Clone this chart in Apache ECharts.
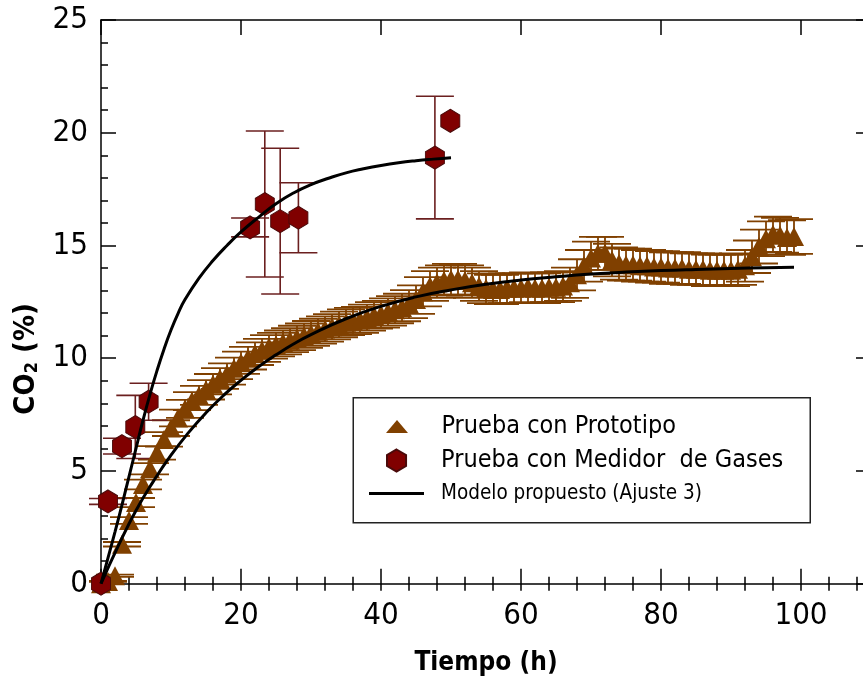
<!DOCTYPE html>
<html>
<head>
<meta charset="utf-8">
<script src="https://cdn.jsdelivr.net/npm/echarts@6/dist/echarts.min.js"></script>
<style>
html, body { margin: 0; padding: 0; background: #fff; }
#main { width: 863px; height: 677px; }
</style>
</head>
<body>
<div id="main"></div>
<script>
// Prueba con Prototipo: tiempo (h), CO2 (%), error
var tiempoProto = [0, 1, 2, 3, 4, 5, 6, 7, 8, 9, 10, 11, 12, 13, 14, 15, 16, 17, 18, 19,
  20, 21, 22, 23, 24, 25, 26, 27, 28, 29, 30, 31, 32, 33, 34, 35, 36, 37, 38, 39,
  40, 41, 42, 43, 44, 45, 46, 47, 48, 49, 50, 51, 52, 53, 54, 55, 56, 57, 58, 59,
  60, 61, 62, 63, 64, 65, 66, 67, 68, 69, 70, 71, 72, 73, 74, 75, 76, 77, 78, 79,
  80, 81, 82, 83, 84, 85, 86, 87, 88, 89, 90, 91, 92, 93, 94, 95, 96, 97, 98, 99];
var co2Proto = [0, 0.1, 0.35, 1.75, 2.8, 3.6, 4.4, 5.1, 5.8, 6.4, 6.9, 7.35, 7.75, 8.1, 8.35, 8.6, 8.85, 9.1, 9.3, 9.55,
  9.8, 10.0, 10.2, 10.35, 10.5, 10.6, 10.7, 10.8, 10.9, 11.0, 11.1, 11.2, 11.3, 11.4, 11.5, 11.6, 11.65, 11.7, 11.8, 11.9,
  11.95, 12.05, 12.15, 12.25, 12.4, 12.6, 12.95, 13.2, 13.35, 13.45, 13.5, 13.5, 13.45, 13.35, 13.2, 13.1, 13.05, 13.05, 13.1, 13.1,
  13.1, 13.15, 13.1, 13.1, 13.15, 13.15, 13.2, 13.35, 13.7, 14.1, 14.45, 14.65, 14.65, 14.35, 14.2, 14.15, 14.15, 14.1, 14.1, 14.05,
  14.05, 14.0, 14.0, 14.0, 13.95, 13.95, 13.95, 13.9, 13.9, 13.9, 13.9, 13.95, 14.1, 14.5, 14.95, 15.3, 15.5, 15.45, 15.35, 15.4];
var errProto = [0, 0.02, 0.05, 0.1, 0.15, 0.2, 0.22, 0.25, 0.3, 0.32, 0.35, 0.37, 0.4, 0.4, 0.42, 0.43, 0.45, 0.46, 0.47, 0.48,
  0.49, 0.5, 0.5, 0.51, 0.52, 0.52, 0.53, 0.53, 0.54, 0.54, 0.55, 0.55, 0.56, 0.56, 0.57, 0.57, 0.58, 0.58, 0.58, 0.59,
  0.59, 0.6, 0.6, 0.61, 0.62, 0.63, 0.65, 0.66, 0.67, 0.67, 0.68, 0.68, 0.67, 0.67, 0.66, 0.66, 0.65, 0.65, 0.66, 0.66,
  0.66, 0.66, 0.66, 0.66, 0.66, 0.66, 0.66, 0.67, 0.69, 0.7, 0.72, 0.73, 0.73, 0.72, 0.71, 0.71, 0.71, 0.7, 0.7, 0.7,
  0.7, 0.7, 0.7, 0.7, 0.7, 0.7, 0.7, 0.7, 0.7, 0.7, 0.7, 0.7, 0.7, 0.72, 0.75, 0.77, 0.78, 0.77, 0.77, 0.77];

// Prueba con Medidor de Gases
var tiempoGas = [0, 1, 3, 4.9, 6.8, 21.3, 23.4, 25.6, 28.2, 47.7, 49.9];
var co2Gas = [0, 3.65, 6.1, 6.95, 8.07, 15.8, 16.84, 16.08, 16.23, 18.9, 20.53];
var errGas = [0, 0.13, 0.35, 1.4, 0.82, 0.42, 3.24, 3.23, 1.55, 2.72, 0];

// Modelo propuesto (Ajuste 3)
var tiempoModGas = [0, 1, 2, 3, 4, 5, 6, 7, 8, 9, 10, 11, 12, 14, 16, 18, 20, 22.5, 25, 27.5, 30, 32.5, 35, 37.5, 40, 42.5, 45, 47.5, 50];
var co2ModGas = [0, 1.15, 2.3, 3.5, 4.75, 6.0, 7.25, 8.4, 9.45, 10.4, 11.25, 11.98, 12.6, 13.55, 14.33, 15.0, 15.6, 16.25, 16.85, 17.33, 17.7, 17.98, 18.22, 18.4, 18.55, 18.67, 18.76, 18.83, 18.89];
var tiempoModProto = [0, 2.5, 5, 7.5, 10, 12.5, 15, 17.5, 20, 22.5, 25, 27.5, 30, 35, 40, 45, 50, 55, 60, 65, 70, 75, 80, 85, 90, 95, 99];
var co2ModProto = [0, 1.7, 3.25, 4.55, 5.7, 6.7, 7.58, 8.35, 9.02, 9.62, 10.15, 10.63, 11.05, 11.75, 12.3, 12.72, 13.03, 13.28, 13.47, 13.61, 13.73, 13.82, 13.89, 13.94, 13.98, 14.01, 14.03];

var fuente = "'Liberation Sans Narrow', 'Arial Narrow', 'DejaVu Sans Condensed', 'Liberation Sans', Arial, sans-serif";
var colProto = '#804000';
var colGas = '#800000';
var colGasErr = '#6b1f1f';
var hexPath = 'path://M0,-1L0.866,-0.5L0.866,0.5L0,1L-0.866,0.5L-0.866,-0.5Z';
var triPath = 'path://M11,0L22,13L0,13Z';
var linePath = 'path://M0,0L55,0L55,3L0,3Z';

function zip3(a, b, c) {
  var out = [];
  for (var i = 0; i < a.length; i++) out.push([a[i], b[i], c[i]]);
  return out;
}
function zip2(a, b) {
  var out = [];
  for (var i = 0; i < a.length; i++) out.push([a[i], b[i]]);
  return out;
}

// barras de error verticales con tapas anchas
function barrasError(color, ancho) {
  return function (params, api) {
    var x = api.value(0), y = api.value(1), e = api.value(2);
    if (!e) return null;
    var arriba = api.coord([x, y + e]);
    var abajo = api.coord([x, y - e]);
    var w = 19;
    var st = { stroke: color, lineWidth: ancho };
    return {
      type: 'group',
      children: [
        { type: 'line', shape: { x1: arriba[0], y1: arriba[1], x2: abajo[0], y2: abajo[1] }, style: st },
        { type: 'line', shape: { x1: arriba[0] - w, y1: arriba[1], x2: arriba[0] + w, y2: arriba[1] }, style: st },
        { type: 'line', shape: { x1: abajo[0] - w, y1: abajo[1], x2: abajo[0] + w, y2: abajo[1] }, style: st }
      ]
    };
  };
}

var ejeLinea = { show: true, onZero: false, lineStyle: { color: '#000', width: 1.5 } };

function ejeX(pos, intervalo, largo, conLinea, conEtiquetas) {
  return {
    type: 'value', position: pos, min: 0, max: 110, interval: intervalo,
    axisLine: conLinea ? ejeLinea : { show: false },
    axisTick: { show: true, inside: true, length: largo, lineStyle: { color: '#000', width: 1.5 } },
    axisLabel: conEtiquetas ? { show: true, showMaxLabel: false, margin: 17, color: '#000', fontSize: 31, fontFamily: fuente } : { show: false },
    splitLine: { show: false }
  };
}
function ejeY(pos, conEtiquetas) {
  return {
    type: 'value', position: pos, min: 0, max: 25, interval: 5,
    axisLine: ejeLinea,
    axisTick: { show: true, inside: true, length: 15, lineStyle: { color: '#000', width: 1.5 } },
    minorTick: { show: true, splitNumber: 5, length: 7, lineStyle: { color: '#000', width: 1.5 } },
    axisLabel: conEtiquetas ? { show: true, margin: 13, color: '#000', fontSize: 31, fontFamily: fuente } : { show: false },
    splitLine: { show: false }
  };
}

var xEjes = [ejeX('bottom', 20, 15, true, true), ejeX('bottom', 4, 7, false, false),
             ejeX('top', 20, 15, true, false), ejeX('top', 4, 7, false, false)];
xEjes[0].name = 'Tiempo (h)';
xEjes[0].nameLocation = 'middle';
xEjes[0].nameGap = 67;
xEjes[0].nameTextStyle = { color: '#000', fontSize: 26, fontWeight: 'bold', fontFamily: fuente };

var yEjes = [ejeY('left', true), ejeY('right', false)];
yEjes[0].name = 'CO{sub|2} (%)';
yEjes[0].nameLocation = 'middle';
yEjes[0].nameRotate = 90;
yEjes[0].nameGap = 55;
yEjes[0].nameTextStyle = {
  color: '#000', fontSize: 29, fontWeight: 'bold', fontFamily: fuente, padding: [0, 114, 0, 0],
  rich: { sub: { fontSize: 18, fontWeight: 'bold', fontFamily: fuente, verticalAlign: 'bottom', padding: [12, 0, 0, 0] } }
};

var chart = echarts.init(document.getElementById('main'));
chart.setOption({
  backgroundColor: '#fff',
  animation: false,
  grid: { left: 101, top: 20, width: 770, height: 563.7, containLabel: false, outerBoundsMode: 'none' },
  xAxis: xEjes,
  yAxis: yEjes,
  legend: [
    { data: [{ name: 'Prueba con Prototipo', icon: triPath }], left: 386, top: 414, padding: 0,
      itemWidth: 79, itemHeight: 13, selectedMode: false,
      textStyle: { color: '#000', fontSize: 25, fontFamily: fuente } },
    { data: [{ name: 'Prueba con Medidor  de Gases', icon: hexPath }], left: 386, top: 448, padding: 0,
      itemWidth: 79, itemHeight: 22, selectedMode: false,
      textStyle: { color: '#000', fontSize: 25, fontFamily: fuente } },
    { data: [{ name: 'Modelo propuesto (Ajuste 3)', icon: linePath }], left: 369, top: 483, padding: 0,
      itemWidth: 79, itemHeight: 3, selectedMode: false,
      textStyle: { color: '#000', fontSize: 20.5, fontFamily: fuente } }
  ],
  graphic: [{
    type: 'rect', z: 3, left: 352.5, top: 397, shape: { width: 457, height: 125 },
    style: { fill: '#fff', stroke: '#222', lineWidth: 1.5 }
  }],
  series: [
    { name: 'errProto', type: 'custom', renderItem: barrasError(colProto, 1.8), data: zip3(tiempoProto, co2Proto, errProto), z: 1, silent: true },
    { name: 'errGas', type: 'custom', renderItem: barrasError(colGasErr, 1.6), data: zip3(tiempoGas, co2Gas, errGas), z: 1, silent: true },
    { name: 'Prueba con Prototipo', type: 'scatter', symbol: 'triangle', symbolSize: [20, 19], clip: false,
      itemStyle: { color: colProto, opacity: 1 }, data: zip2(tiempoProto, co2Proto), z: 2 },
    { name: 'Prueba con Medidor  de Gases', type: 'scatter', symbol: hexPath, symbolSize: [19, 23], clip: false,
      itemStyle: { color: colGas, borderColor: '#4a0a0a', borderWidth: 1, opacity: 1 }, data: zip2(tiempoGas, co2Gas), z: 2 },
    { name: 'Modelo propuesto (Ajuste 3)', type: 'line', smooth: 0.5, showSymbol: false, symbol: 'none',
      lineStyle: { color: '#000', width: 3 }, itemStyle: { color: '#000' }, data: zip2(tiempoModGas, co2ModGas), z: 3 },
    { name: 'Modelo propuesto (Ajuste 3)', type: 'line', smooth: 0.5, showSymbol: false, symbol: 'none',
      lineStyle: { color: '#000', width: 3 }, itemStyle: { color: '#000' }, data: zip2(tiempoModProto, co2ModProto), z: 3 }
  ]
});
</script>
</body>
</html>
